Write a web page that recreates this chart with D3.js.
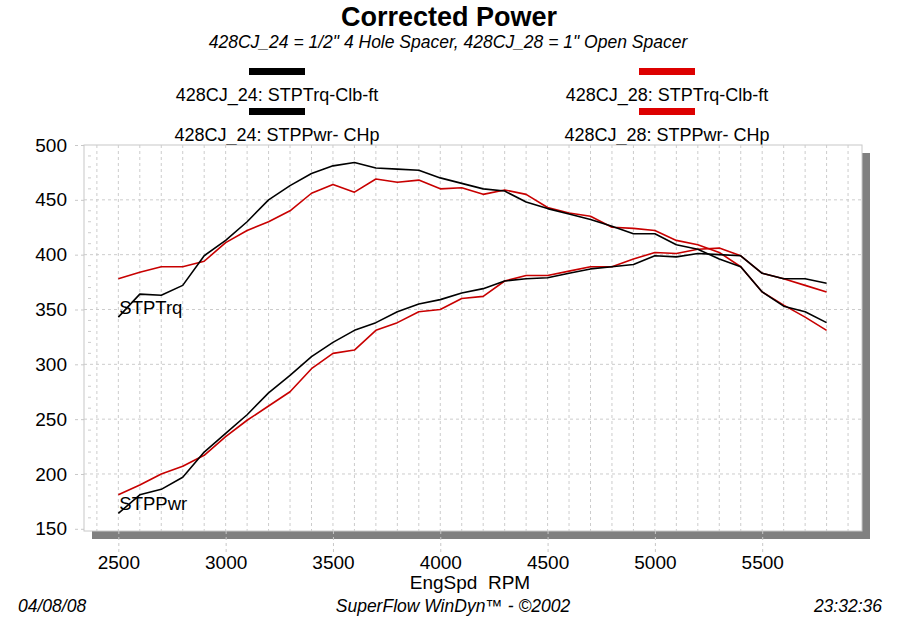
<!DOCTYPE html>
<html lang="en">
<head>
<meta charset="UTF-8"/>
<title>Corrected Power</title>
<style>
  * { margin: 0; padding: 0; }
  body { background: #fff; width: 900px; height: 617px; overflow: hidden; }
  svg { display: block; font-family: "Liberation Sans", Arial, sans-serif; }
  .grid line { stroke: #cccccc; stroke-width: 1; stroke-dasharray: 3,3; }
  .tick-label { font-size: 19px; fill: #000; }
</style>
</head>
<body>
<svg id="chart" width="900" height="617"></svg>
<script src="https://cdn.jsdelivr.net/npm/d3@7/dist/d3.min.js"></script>
<script>
// --- data (EngSpd RPM, STPTrq lb-ft, STPPwr hp) ---

const rpm = [2500, 2600, 2700, 2800, 2900, 3000, 3100, 3200, 3300, 3400, 3500, 3600,
             3700, 3800, 3900, 4000, 4100, 4200, 4300, 4400, 4500, 4600, 4700, 4800,
             4900, 5000, 5100, 5200, 5300, 5400, 5500, 5600, 5700, 5800]

const trq24 = [343, 364, 363, 372, 399, 413, 430, 450, 463, 474, 481, 484,
               479, 478, 477, 470, 465, 460, 458, 448, 442, 437, 432, 426,
               419, 419, 409, 405, 396, 389, 366, 353, 348, 338]

const pwr24 = [164, 181, 186, 197, 220, 237, 254, 274, 290, 307, 320, 331,
               338, 348, 355, 359, 365, 369, 376, 378, 379, 383, 387, 389,
               391, 399, 398, 401, 400, 399, 383, 378, 378, 374]

const trq28 = [378, 384, 389, 389, 394, 411, 422, 430, 440, 456, 464, 457,
               469, 466, 468, 460, 461, 455, 459, 455, 443, 438, 435, 425,
               424, 422, 413, 409, 402, 389, 366, 354, 343, 331]

const pwr28 = [181, 190, 200, 207, 217, 234, 249, 262, 275, 296, 310, 313,
               331, 338, 348, 350, 360, 362, 376, 381, 381, 385, 389, 389,
               396, 402, 401, 405, 406, 399, 383, 378, 372, 366]

const xTicks = [2500, 3000, 3500, 4000, 4500, 5000, 5500]
const yTicks = [150, 200, 250, 300, 350, 400, 450, 500]

const RED   = '#c80000'
const BLACK = '#000000'

// --- layout ---

const plot = { left: 84, right: 862, top: 145, bottom: 531 }

const x = d3.scaleLinear().domain([2340, 5965]).range([plot.left, plot.right])
const y = d3.scaleLinear().domain([148, 500]).range([plot.bottom, plot.top])

const svg = d3.select('#chart')

// --- titles ---

svg.append('text')
  .attr('x', 449).attr('y', 26)
  .attr('text-anchor', 'middle')
  .style('font-size', '27px').style('font-weight', 'bold')
  .text('Corrected Power')

svg.append('text')
  .attr('x', 448).attr('y', 48)
  .attr('text-anchor', 'middle')
  .style('font-size', '17.5px').style('font-style', 'italic')
  .text('428CJ_24 = 1/2" 4 Hole Spacer, 428CJ_28 = 1" Open Spacer')

// --- legend ---

const legend = [
  { label: '428CJ_24: STPTrq-Clb-ft', color: BLACK, cx: 277, row: 0 },
  { label: '428CJ_24: STPPwr- CHp',   color: BLACK, cx: 277, row: 1 },
  { label: '428CJ_28: STPTrq-Clb-ft', color: RED,   cx: 667, row: 0 },
  { label: '428CJ_28: STPPwr- CHp',   color: RED,   cx: 667, row: 1 },
]

const lg = svg.append('g').selectAll('g').data(legend).join('g')
  .attr('transform', d => `translate(${d.cx},${d.row * 40})`)

lg.append('rect')
  .attr('x', -28).attr('y', 68).attr('width', 56).attr('height', 7)
  .attr('fill', d => d.color === RED ? '#dd0000' : d.color)

lg.append('text')
  .attr('y', 101)
  .attr('text-anchor', 'middle')
  .style('font-size', '18px')
  .text(d => d.label)

// --- frame with drop shadow ---

svg.append('rect')
  .attr('x', plot.left + 8).attr('y', plot.top + 8)
  .attr('width', plot.right - plot.left).attr('height', plot.bottom - plot.top)
  .attr('fill', '#808080')

svg.append('rect')
  .attr('x', plot.left).attr('y', plot.top)
  .attr('width', plot.right - plot.left).attr('height', plot.bottom - plot.top)
  .attr('fill', '#fff')
  .attr('stroke', '#c8c8c8')

// --- grid ---

const grid = svg.append('g').attr('class', 'grid')

grid.selectAll('line.v').data(d3.range(2400, 6000, 100)).join('line')
  .attr('class', 'v')
  .attr('x1', d => x(d)).attr('x2', d => x(d))
  .attr('y1', plot.top).attr('y2', plot.bottom)

grid.selectAll('line.h').data(yTicks.filter(v => v > 150 && v < 500)).join('line')
  .attr('class', 'h')
  .attr('x1', plot.left).attr('x2', plot.right)
  .attr('y1', d => y(d)).attr('y2', d => y(d))

// small minor marks every 10 along the left edge
grid.selectAll('line.m').data(d3.range(160, 500, 10).filter(v => v % 50)).join('line')
  .attr('class', 'm')
  .attr('x1', plot.left + 4).attr('x2', plot.left + 9)
  .attr('y1', d => y(d)).attr('y2', d => y(d))

// --- axes ---

const xAxis = d3.axisBottom(x).tickValues(xTicks).tickFormat(d3.format('d')).tickSize(21).tickPadding(4)
const yAxis = d3.axisLeft(y).tickValues(yTicks).tickFormat(d3.format('d')).tickSize(10).tickPadding(7)

const gx = svg.append('g').attr('transform', `translate(0,${plot.bottom})`).call(xAxis)
const gy = svg.append('g').attr('transform', `translate(${plot.left},0)`).call(yAxis)

for (const g of [gx, gy]) {
  g.select('.domain').remove()
  g.selectAll('.tick line').attr('stroke', '#c8c8c8').attr('stroke-dasharray', '3,3')
  g.selectAll('.tick text').attr('class', 'tick-label').attr('fill', '#000')
    .style('font-family', '"Liberation Sans", Arial, sans-serif')
}

svg.append('text')
  .attr('x', 470).attr('y', 589)
  .attr('text-anchor', 'middle')
  .style('font-size', '19px')
  .text('EngSpd\u00a0 RPM')

// --- footer ---

const footer = svg.append('g').style('font-size', '17.5px').style('font-style', 'italic')
footer.append('text').attr('x', 18).attr('y', 612).text('04/08/08')
footer.append('text').attr('x', 453).attr('y', 612).attr('text-anchor', 'middle')
  .text('SuperFlow WinDyn\u2122 - \u00a92002')
footer.append('text').attr('x', 882).attr('y', 612).attr('text-anchor', 'end').text('23:32:36')

// --- curves ---

const line = d3.line().x((d, i) => x(rpm[i])).y(d => y(d))

const series = [
  { values: pwr28, color: RED },
  { values: trq28, color: RED },
  { values: pwr24, color: BLACK },
  { values: trq24, color: BLACK },
]

svg.append('g').selectAll('path').data(series).join('path')
  .attr('d', d => line(d.values))
  .attr('fill', 'none')
  .attr('stroke', d => d.color)
  .attr('stroke-width', 1.6)
  .attr('stroke-linejoin', 'round')

// curve names sit just above the first 428CJ_24 point
const names = [
  { text: 'STPTrq', v: trq24[0] },
  { text: 'STPPwr', v: pwr24[0] },
]

svg.append('g').selectAll('text').data(names).join('text')
  .attr('x', x(rpm[0]) + 1)
  .attr('y', d => y(d.v) - 3)
  .style('font-size', '18.5px')
  .text(d => d.text)
</script>
</body>
</html>
